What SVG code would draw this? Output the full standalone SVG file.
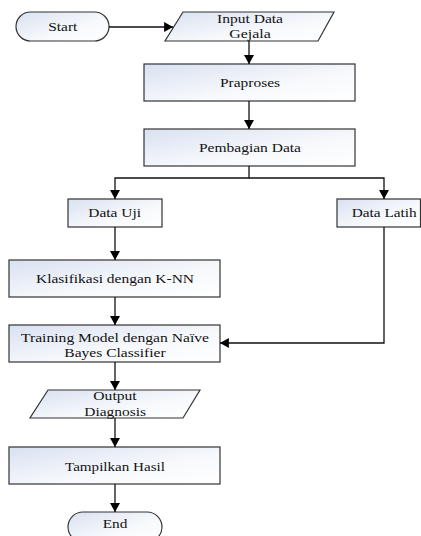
<svg xmlns="http://www.w3.org/2000/svg" width="421" height="536" viewBox="0 0 421 536">
<defs>
<linearGradient id="g" x1="0" y1="0" x2="1" y2="1">
<stop offset="0" stop-color="#d9e1f1"/>
<stop offset="0.6" stop-color="#f7f9fc"/>
<stop offset="1" stop-color="#ffffff"/>
</linearGradient>
<marker id="a" markerUnits="userSpaceOnUse" markerWidth="10" markerHeight="10" viewBox="0 0 8 9" refX="8" refY="4.5" orient="auto">
<path d="M0,0 L8,4.5 L0,9 z" fill="#000"/>
</marker>
</defs>
<style>
.n{fill:url(#g);stroke:#333;stroke-width:1.2}
.t{font-family:"Liberation Serif","Times New Roman",serif;font-size:13px;fill:#111;text-anchor:middle}
.c{fill:none;stroke:#111;stroke-width:1.3;marker-end:url(#a)}
</style>
<rect width="421" height="536" fill="#fff"/>
<g id="start"><rect class="n" x="16" y="12" width="93" height="29" rx="14.5" ry="14.5"/><text class="t" x="62.8" y="30.7" textLength="29" lengthAdjust="spacingAndGlyphs">Start</text></g>
<g id="input"><path class="n" d="M183,12 H334 L318,41 H165 Z"/><text class="t" x="250" y="22.7" textLength="66" lengthAdjust="spacingAndGlyphs">Input Data</text><text class="t" x="250" y="38.3" textLength="41.4" lengthAdjust="spacingAndGlyphs">Gejala</text></g>
<g id="praproses"><rect class="n" x="144" y="64" width="211" height="37"/><text class="t" x="250" y="87" textLength="60" lengthAdjust="spacingAndGlyphs">Praproses</text></g>
<g id="pembagian"><rect class="n" x="144" y="129" width="211" height="37"/><text class="t" x="250" y="152.3" textLength="102" lengthAdjust="spacingAndGlyphs">Pembagian Data</text></g>
<g id="datauji"><rect class="n" x="68" y="199" width="94" height="28"/><text class="t" x="114.7" y="217.3" textLength="52.7" lengthAdjust="spacingAndGlyphs">Data Uji</text></g>
<g id="datalatih"><rect class="n" x="337" y="199" width="83.5" height="28"/><text class="t" x="384.2" y="217.3" textLength="65" lengthAdjust="spacingAndGlyphs">Data Latih</text></g>
<g id="knn"><rect class="n" x="9" y="260" width="211" height="37"/><text class="t" x="115" y="283.3" textLength="158" lengthAdjust="spacingAndGlyphs">Klasifikasi dengan K-NN</text></g>
<g id="training"><rect class="n" x="9" y="325" width="211" height="37"/><text class="t" x="115" y="341.7" textLength="188" lengthAdjust="spacingAndGlyphs">Training Model dengan Naïve</text><text class="t" x="115" y="356.7" textLength="101.3" lengthAdjust="spacingAndGlyphs">Bayes Classifier</text></g>
<g id="output"><path class="n" d="M48,390 H200 L183,418 H30 Z"/><text class="t" x="115" y="400" textLength="43.3" lengthAdjust="spacingAndGlyphs">Output</text><text class="t" x="115.2" y="415.7" textLength="61.7" lengthAdjust="spacingAndGlyphs">Diagnosis</text></g>
<g id="tampilkan"><rect class="n" x="9" y="447" width="211" height="37"/><text class="t" x="115" y="470.7" textLength="100" lengthAdjust="spacingAndGlyphs">Tampilkan Hasil</text></g>
<g id="end"><rect class="n" x="68" y="512" width="94" height="30" rx="15" ry="15"/><text class="t" x="115" y="528.3" textLength="24.7" lengthAdjust="spacingAndGlyphs">End</text></g>
<g id="connectors">
<path class="c" d="M109,27 H173"/>
<path class="c" d="M249,41 V64"/>
<path class="c" d="M249,101 V129"/>
<path class="c" d="M249,166 V178 H115 V199"/>
<path class="c" d="M249,178 H384 V199"/>
<path class="c" d="M115,227 V260"/>
<path class="c" d="M115,297 V325"/>
<path class="c" d="M384,227 V343 H220"/>
<path class="c" d="M115,362 V390"/>
<path class="c" d="M115,418 V447"/>
<path class="c" d="M115,484 V512"/>
</g>
</svg>
